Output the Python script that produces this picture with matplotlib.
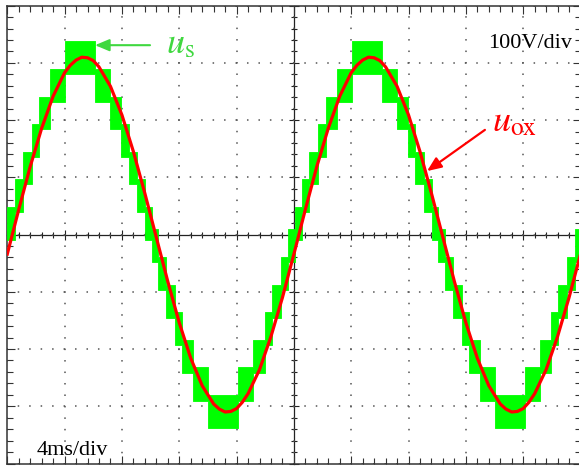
import numpy as np
import matplotlib
matplotlib.use("Agg")
import matplotlib.pyplot as plt
from matplotlib.ticker import MultipleLocator

# ==========================================
# 1. 데이터 (오실로스코프 화면에서 읽은 값)
# ==========================================
# u_ox : 0.8 ms 간격 샘플 (V), 꼭짓점 근처는 0.4 ms 간격
red_t = [0.0, 0.8, 1.6, 2.4, 3.2, 4.0, 4.4, 4.8, 5.2, 5.6, 6.0, 6.4, 7.2,
         8.0, 8.8, 9.6, 10.4, 11.2, 12.0, 12.8, 13.6, 14.4, 14.8, 15.2,
         15.6, 16.0, 16.4, 16.8, 17.6, 18.4, 19.2,
         20.0, 20.8, 21.6, 22.4, 23.2, 24.0, 24.4, 24.8, 25.2, 25.6, 26.0,
         26.4, 27.2, 28.0, 28.8, 29.6, 30.4, 31.2, 32.0, 32.8, 33.6, 34.4,
         34.8, 35.2, 35.6, 36.0, 36.4, 36.8, 37.6, 38.4, 39.2, 40.0]
red_v = [-34, 44, 119, 186, 242, 283, 296, 305, 310, 309, 304, 293, 259,
         209, 145, 72, -5, -82, -154, -216, -264, -296, -305, -310,
         -309, -304, -293, -278, -236, -178, -110,
         -34, 44, 119, 186, 242, 283, 296, 305, 310, 309, 304,
         293, 259, 209, 145, 72, -5, -82, -154, -216, -264, -296,
         -305, -310, -309, -304, -293, -278, -236, -178, -110, -34]

# u_s : 계단파 (구간 경계 ms, 구간 레벨 번호)
green_edges = [0.0, 0.54, 1.08, 1.70, 2.21, 2.98, 4.03, 6.13, 7.18, 7.95, 8.46,
               9.08, 9.62, 10.08, 10.54, 11.08, 11.70, 12.21, 12.98, 14.03,
               16.13, 17.18, 17.95, 18.46, 19.08, 19.62, 20.08,
               20.54, 21.08, 21.70, 22.21, 22.98, 24.03, 26.13, 27.18, 27.95,
               28.46, 29.08, 29.62, 30.08, 30.54, 31.08, 31.70, 32.21, 32.98,
               34.03, 36.13, 37.18, 37.95, 38.46, 39.08, 39.62, 40.0]
green_step = [1, 2, 3, 4, 5, 6, 7, 6, 5, 4, 3, 2, 1,
              -1, -2, -3, -4, -5, -6, -7, -6, -5, -4, -3, -2, -1,
              1, 2, 3, 4, 5, 6, 7, 6, 5, 4, 3, 2, 1,
              -1, -2, -3, -4, -5, -6, -7, -6, -5, -4, -3, -2, -1]
level_v = [0, 48, 97, 145, 193, 241, 290, 338]
band_ripple = 9  # 아래쪽 리플 폭 (V)

# 밴드 상/하한
green_lo, green_hi = [], []
for k in green_step:
    if k > 0:
        green_lo.append(level_v[k - 1] - band_ripple)
        green_hi.append(level_v[k])
    else:
        green_lo.append(-level_v[-k])
        green_hi.append(-level_v[-k - 1] + band_ripple)
green_lo.append(green_lo[-1])
green_hi.append(green_hi[-1])

GREEN = "#00ff00"
GREEN_TXT = "#3fd83f"
RED = "#ff0000"
FRAME = "#333333"

plt.rcParams["mathtext.fontset"] = "stix"

# ==========================================
# 2. 화면 구성
# ==========================================
fig = plt.figure(figsize=(5.79, 4.68), dpi=100)
fig.patch.set_facecolor("white")
rect = [7.3 / 579, 4.5 / 468, 573.2 / 579, 457.8 / 468]

# 중앙 십자축 (눈금 양방향)
axc = fig.add_axes(rect, zorder=0)
axc.set_xlim(0, 40)
axc.set_ylim(-400, 400)
for s in ["top", "right"]:
    axc.spines[s].set_visible(False)
axc.spines["left"].set_position(("data", 20))
axc.spines["bottom"].set_position(("data", 0))
for s in ["left", "bottom"]:
    axc.spines[s].set_color("#222222")
    axc.spines[s].set_linewidth(0.9)
axc.xaxis.set_major_locator(MultipleLocator(4))
axc.xaxis.set_minor_locator(MultipleLocator(0.8))
axc.yaxis.set_major_locator(MultipleLocator(100))
axc.yaxis.set_minor_locator(MultipleLocator(20))
axc.tick_params(which="both", direction="inout", labelbottom=False,
                labelleft=False, color="#222222", width=0.8)
axc.tick_params(which="major", length=7)
axc.tick_params(which="minor", length=5)

# 메인 축 (테두리 + 점선 격자)
ax = fig.add_axes(rect, zorder=1)
ax.patch.set_alpha(0)
ax.set_xlim(0, 40)
ax.set_ylim(-400, 400)
ax.xaxis.set_major_locator(MultipleLocator(4))
ax.xaxis.set_minor_locator(MultipleLocator(0.8))
ax.yaxis.set_major_locator(MultipleLocator(100))
ax.yaxis.set_minor_locator(MultipleLocator(20))
ax.tick_params(which="both", direction="in", top=True, right=True,
               labelbottom=False, labelleft=False, color=FRAME, width=0.8)
ax.tick_params(which="major", length=6)
ax.tick_params(which="minor", length=4.3)
for s in ax.spines.values():
    s.set_color(FRAME)
    s.set_linewidth(1.1)

dot_lw = 1.1
period_pt = rect[2] * 5.79 * 72 / 50
ax.grid(which="major", color="#555555", linewidth=dot_lw,
        linestyle=(0.5, (1.0, period_pt / dot_lw - 1.0)))
ax.set_axisbelow(True)

# ==========================================
# 3. 파형
# ==========================================
ax.fill_between(green_edges, green_lo, green_hi, step="post",
                facecolor=GREEN, edgecolor=GREEN, linewidth=0.6, zorder=3)
ax.plot(red_t, red_v, color=RED, linewidth=2.3, zorder=4)

# ==========================================
# 4. 라벨 및 화살표
# ==========================================
ax.text(33.55, 326, "100V/div", fontfamily="Liberation Serif", fontsize=16,
        ha="left", va="baseline", zorder=6)
ax.text(2.07, -385, "4ms/div", fontfamily="Liberation Serif", fontsize=16,
        ha="left", va="baseline", zorder=6)

ax.text(11.1, 317, r"$u_{\mathrm{s}}$", fontsize=26, color=GREEN_TXT,
        ha="left", va="baseline", zorder=6)
ax.annotate("", xy=(6.12, 331), xytext=(9.96, 331),
            arrowprops=dict(arrowstyle="-|>,head_length=0.86,head_width=0.36",
                            mutation_scale=10, color=GREEN_TXT, lw=1.5,
                            shrinkA=0, shrinkB=0), zorder=6)

ax.text(33.85, 181, r"$u_{\mathrm{ox}}$", fontsize=26, color=RED,
        ha="left", va="baseline", zorder=6)
ax.annotate("", xy=(29.29, 111), xytext=(33.33, 183),
            arrowprops=dict(arrowstyle="-|>,head_length=0.86,head_width=0.36",
                            mutation_scale=10, color=RED, lw=1.6,
                            shrinkA=0, shrinkB=0), zorder=6)

fig.savefig("out.png", dpi=100, facecolor="white")
plt.close(fig)
